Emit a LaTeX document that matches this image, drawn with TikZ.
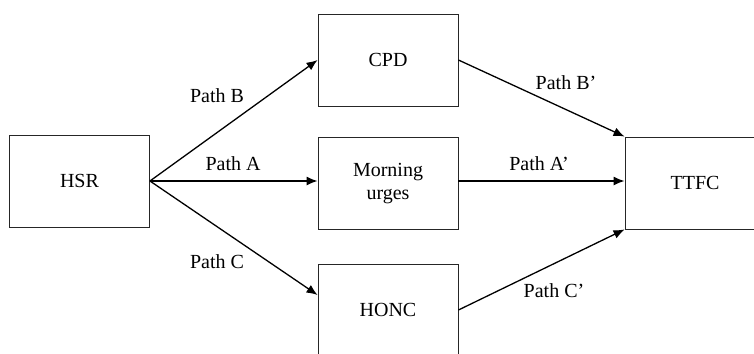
\documentclass[tikz,border=0pt]{standalone}
\usepackage{fontspec}
\setmainfont{Liberation Serif}
\usetikzlibrary{arrows.meta}

\begin{document}
\begin{tikzpicture}[x=1pt, y=-1pt,
        box/.style={draw=black!85, line width=0.9pt, minimum width=140pt, minimum height=92pt, align=center, font=\fontsize{20}{23}\selectfont},
        link/.style={line width=1.3pt, -{Latex[length=11pt, width=9pt]}},
        lbl/.style={font=\fontsize{20}{23}\selectfont}]
        \clip (0, 0) rectangle (754, 353);

        % boxes
        \node[box] (hsr) at (79.5, 181) {HSR};
        \node[box] (cpd) at (388, 60) {CPD};
        \node[box] (morning) at (388, 183.5) {Morning\\urges};
        \node[box] (honc) at (388, 310) {HONC};
        \node[box] (ttfc) at (695, 183) {TTFC};

        % first stage
        \draw[link] (hsr.east) -- (cpd.west);
        \draw[link] (hsr.east) -- (hsr.east -| morning.west);
        \draw[link] (hsr.east) -- ([yshift=15pt]honc.west);

        % second stage
        \draw[link] (cpd.east) -- (ttfc.north west);
        \draw[link] (hsr.east -| morning.east) -- (hsr.east -| ttfc.west);
        \draw[link] (honc.east) -- (ttfc.south west);

        % labels
        \node[lbl] (pb) at (217, 96) {Path B};
        \node[lbl] (pa) at (233, 164) {Path A};
        \node[lbl] (pc) at (217, 262) {Path C};
        \node[lbl] (pbb) at (566, 83) {Path B'};
        \node[lbl] (paa) at (539, 164) {Path A'};
        \node[lbl] (pcc) at (554, 291) {Path C'};
\end{tikzpicture}
\end{document}
